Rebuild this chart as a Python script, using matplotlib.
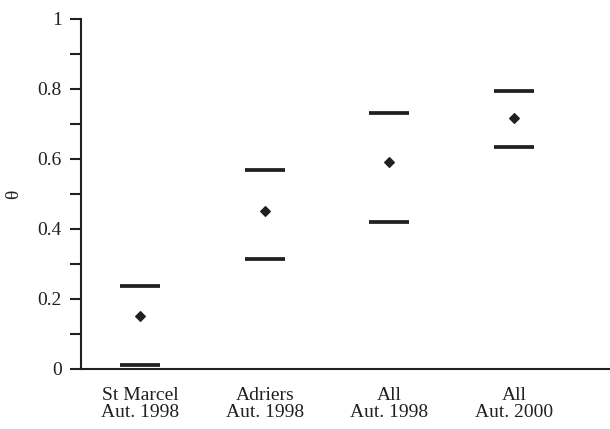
import numpy as np
import matplotlib
matplotlib.use("Agg")
import matplotlib.pyplot as plt
from matplotlib.ticker import MultipleLocator

# donnees
sites = ["St Marcel\nAut. 1998", "Adriers\nAut. 1998", "All\nAut. 1998", "All\nAut. 2000"]
theta = [0.152, 0.451, 0.591, 0.718]
borne_inf = [0.012, 0.315, 0.420, 0.635]
borne_sup = [0.238, 0.569, 0.731, 0.794]

noir = "#231f20"
plt.rcParams["font.family"] = ["Liberation Serif", "DejaVu Serif"]
plt.rcParams["font.size"] = 14

fig = plt.figure(figsize=(6.10, 4.29), dpi=100)
ax = fig.add_axes([0.133, 0.14, 0.865, 0.816])

x = np.arange(len(sites))
demi = 0.16

# bornes de l'intervalle
ax.hlines(borne_inf, x - demi, x + demi, color=noir, lw=2.7)
ax.hlines(borne_sup, x - demi, x + demi, color=noir, lw=2.7)
# estimation
ax.plot(x, theta, "D", color=noir, ms=5.6, mew=0.8, ls="none")

ax.set_xlim(-0.473, 3.76)
ax.set_ylim(0, 1)
ax.yaxis.set_major_locator(MultipleLocator(0.2))
ax.yaxis.set_minor_locator(MultipleLocator(0.1))
ax.set_yticks([0, 0.2, 0.4, 0.6, 0.8, 1])
ax.set_yticklabels(["0", "0.2", "0.4", "0.6", "0.8", "1"])
ax.set_xticks(x)
ax.set_xticklabels(sites, linespacing=1.0)

for s in ["top", "right"]:
    ax.spines[s].set_visible(False)
for s in ["left", "bottom"]:
    ax.spines[s].set_linewidth(1.5)
    ax.spines[s].set_color(noir)

ax.tick_params(axis="y", which="both", direction="out", length=8, width=1.5,
               color=noir, pad=6, labelcolor=noir)
ax.tick_params(axis="x", length=0, pad=13, labelcolor=noir)

ax.set_ylabel("θ", color=noir, labelpad=11)

fig.savefig("out.png", dpi=100)
